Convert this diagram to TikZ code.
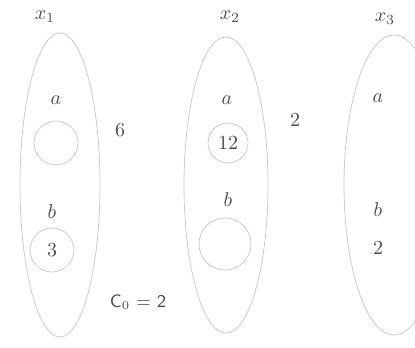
\documentclass[tikz,border=0pt]{standalone}
\usetikzlibrary{shapes.geometric, positioning}

\begin{document}
\begin{tikzpicture}[
    x=0.5pt, y=-0.5pt,
    set/.style={ellipse, draw=gray!40, thin, minimum width=40pt, minimum height=152pt},
    cell/.style={circle, draw=gray!40, thin, minimum size=22pt, inner sep=0pt},
    lbl/.style={text=black!70, inner sep=1pt}
]
\useasboundingbox (0,0) rectangle (415,347);

% the three variables
\node[set] (s1) at (60,185) {};
\node[set, minimum width=42pt, minimum height=148pt] (s2) at (226,185) {};
\node[set, minimum width=50pt, minimum height=150pt] (s3) at (394,185) {};

\node[lbl] (x1) at (45,17) {$x_1$};
\node[lbl] (x2) at (230,17) {$x_2$};
\node[lbl] (x3) at (385,19) {$x_3$};

% values
\node[lbl] (a1) at (56,100) {$a$};
\node[cell] (ca1) at (56,143) {};
\node[lbl] (b1) at (52,212) {$b$};
\node[cell, text=black!70] (cb1) at (52,250) {3};

\node[lbl] (a2) at (227,100) {$a$};
\node[cell, minimum size=20pt, text=black!70] (ca2) at (228,143) {12};
\node[lbl] (b2) at (228,200) {$b$};
\node[cell, minimum size=26pt] (cb2) at (225,244) {};

\node[lbl] (a3) at (378,98) {$a$};
\node[lbl] (b3) at (378,210) {$b$};
\node[lbl] (n3) at (378,248) {2};

% costs
\node[lbl] (w12) at (120,130) {6};
\node[lbl] (w23) at (295,120) {2};
\node[lbl, font=\sffamily\small] (c0) at (138,302) {C$_0$ = 2};

\end{tikzpicture}
\end{document}
